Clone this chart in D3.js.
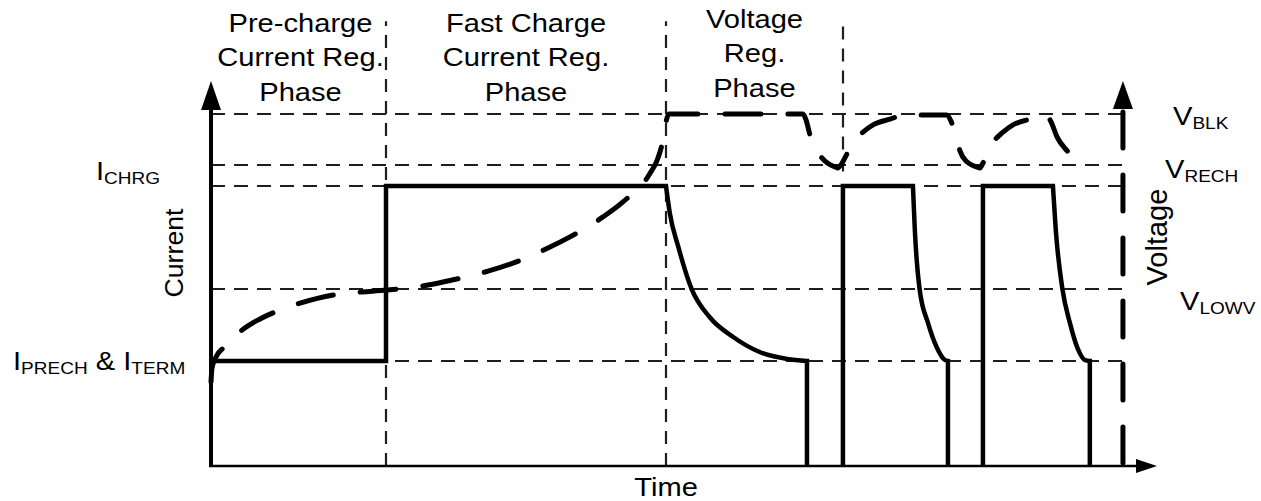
<!DOCTYPE html>
<html><head><meta charset="utf-8">
<script src="https://cdn.jsdelivr.net/npm/d3@7"></script>
<style>
html,body{margin:0;padding:0;background:#fff;}
svg{display:block;font-family:"Liberation Sans",Arial,Helvetica,sans-serif;}
</style>
</head><body>
<svg id="chart" width="1261" height="501"></svg>
<script>
// ---------- data ----------
const phaseLabels = [
  ["Pre-charge", "Current Reg.", "Phase"],
  ["Fast Charge", "Current Reg.", "Phase"],
  ["Voltage", "Reg.", "Phase"]
];
const phaseBounds = [0, 18.5, 48.1, 66.8];          // time units
const levelNames  = ["IPRECH", "VLOWV", "ICHRG", "VRECH", "VBLK"];
const levelValues = [27.3, 46.0, 72.7, 78.2, 91.4]; // level units

// charge current (solid), per pulse: rise (straight), decay (curve), drop (straight)
const currentRise = [
  [[0, 27.3], [18.5, 27.3], [18.5, 72.7], [48.1, 72.7]],
  [[66.8, 0], [66.8, 72.7], [74.2, 72.7]],
  [[81.6, 0], [81.6, 72.7], [89.0, 72.7]]
];
const currentDecay = [
  [[48.1, 72.7], [48.5, 65.7], [49.4, 56.9], [50.8, 46.0], [52.7, 38.7], [55.2, 33.5], [58.0, 29.6], [60.9, 27.8], [63.0, 27.3]],
  [[74.2, 72.7], [74.4, 61.3], [74.9, 46.0], [75.8, 37.1], [76.7, 30.9], [77.6, 27.5], [77.9, 27.3]],
  [[89.0, 72.7], [89.3, 61.3], [90.0, 46.0], [90.8, 37.1], [91.6, 30.6], [92.4, 27.5], [92.9, 27.3]]
];
const currentDrop = [
  [[63.0, 27.3], [63.0, 0]],
  [[77.9, 27.3], [77.9, 0]],
  [[92.9, 27.3], [92.9, 0]]
];

// battery voltage (dashed), split at the recharge dips
const voltageTime = [
  [0, 0.11, 0.53, 1.69, 3.28, 5.18, 7.08, 9.41, 13.64, 15.96, 18.60, 22.94, 25.48, 29.28, 31.92, 35.62,
   37.95, 41.44, 43.55, 46.30, 47.25, 47.78, 48.10, 48.41, 51.69, 56.98, 62.58, 62.90, 63.32, 64.06, 64.90, 66.28],
  [66.28, 66.59, 67.34, 68.08, 68.82, 69.98, 71.78, 73.36, 77.80, 78.22, 78.75, 79.18, 79.81, 81.29],
  [81.29, 81.50, 82.14, 82.88, 83.62, 84.78, 86.58, 88.27, 88.80, 89.43, 90.59, 91.86, 92.18]
];
const voltageLevel = [
  [21.8, 25.5, 28.3, 31.4, 35.3, 38.2, 40.3, 42.3, 44.7, 45.2, 45.7, 47.0, 48.3, 50.6, 52.7, 56.6,
   59.5, 64.7, 68.6, 75.6, 80.0, 84.7, 89.4, 91.4, 91.4, 91.4, 91.4, 89.9, 86.0, 81.8, 79.2, 77.4],
  [77.4, 78.2, 81.6, 84.7, 86.5, 88.6, 90.1, 91.2, 91.2, 89.6, 85.7, 81.8, 79.2, 77.4],
  [77.4, 78.2, 81.6, 84.7, 86.5, 88.6, 90.1, 91.2, 89.4, 85.5, 81.6, 78.2, 77.7]
];

// ---------- scales ----------
const svg = d3.select("#chart");
const x = d3.scaleLinear().domain([0, 100]).range([211, 1157]);
const y = d3.scaleLinear().domain([0, 100]).range([466, 81]);

const gridColor = "#1e1e1e";
const gridEnd = 96.7;
const rightAxisT = 96.4;

// ---------- grid (dashed reference lines) ----------
svg.append("g").selectAll("line").data(levelValues).join("line")
  .attr("x1", x(0)).attr("x2", x(gridEnd))
  .attr("y1", d => Math.round(y(d))).attr("y2", d => Math.round(y(d)))
  .attr("stroke", gridColor).attr("stroke-width", 2.2)
  .attr("stroke-dasharray", "14,9");

const phaseLines = [
  {t: phaseBounds[1], from: 0, to: 115.5},
  {t: phaseBounds[2], from: 0, to: 115.5},
  {t: phaseBounds[3], from: 76.5, to: 115.5}
];
svg.append("g").selectAll("line").data(phaseLines).join("line")
  .attr("x1", d => Math.round(x(d.t))).attr("x2", d => Math.round(x(d.t)))
  .attr("y1", d => y(d.from)).attr("y2", d => y(d.to))
  .attr("stroke", gridColor).attr("stroke-width", 2.2)
  .attr("stroke-dasharray", "13,9");

// ---------- axes ----------
// left (current) axis
svg.append("line")
  .attr("x1", x(0)).attr("x2", x(0)).attr("y1", y(0) + 1).attr("y2", y(100) + 26)
  .attr("stroke", "#000").attr("stroke-width", 4);
svg.append("path")
  .attr("d", `M${x(0)},${y(100)} L${x(0) - 10},${y(100) + 29} L${x(0) + 10},${y(100) + 29} Z`)
  .attr("fill", "#000");
// bottom (time) axis
svg.append("line")
  .attr("x1", x(0) - 2).attr("x2", x(100) - 18).attr("y1", y(0)).attr("y2", y(0))
  .attr("stroke", "#000").attr("stroke-width", 2.5);
svg.append("path")
  .attr("d", `M${x(100)},${y(0)} L${x(100) - 21},${y(0) - 7} L${x(100) - 21},${y(0) + 7} Z`)
  .attr("fill", "#000");
// right (voltage) axis
svg.append("line")
  .attr("x1", x(rightAxisT)).attr("x2", x(rightAxisT)).attr("y1", y(100) + 31).attr("y2", y(0) + 2)
  .attr("stroke", "#000").attr("stroke-width", 5)
  .attr("stroke-linecap", "round").attr("stroke-dasharray", "36,27");
svg.append("path")
  .attr("d", `M${x(rightAxisT)},${y(100)} L${x(rightAxisT) - 10},${y(100) + 28} L${x(rightAxisT) + 10},${y(100) + 28} Z`)
  .attr("fill", "#000");

// ---------- current trace ----------
const lin = d3.line().x(d => x(d[0])).y(d => y(d[1]));
const smooth = d3.line().x(d => x(d[0])).y(d => y(d[1])).curve(d3.curveMonotoneX);
const pulses = d3.range(currentRise.length).map(i =>
  lin(currentRise[i]) + smooth(currentDecay[i]).replace(/^M/, "L") + lin(currentDrop[i]).replace(/^M/, "L"));
svg.append("g").selectAll("path").data(pulses).join("path")
  .attr("d", d => d)
  .attr("fill", "none").attr("stroke", "#000").attr("stroke-width", 4.5)
  .attr("stroke-linejoin", "miter");

// ---------- voltage trace ----------
const voltageD = voltageTime.map((ts, k) =>
  smooth(ts.map((t, i) => [t, voltageLevel[k][i]])).replace(/^M/, k ? "L" : "M")).join("");
svg.append("path")
  .attr("d", voltageD)
  .attr("fill", "none").attr("stroke", "#000").attr("stroke-width", 5)
  .attr("stroke-linecap", "round").attr("stroke-linejoin", "round")
  .attr("stroke-dasharray", "36,27");

// ---------- text ----------
const SX = 1.12;
function hText(px, py, anchor, parts, size) {
  const g = svg.append("g").attr("transform", `translate(${px},${py}) scale(${SX},1)`);
  const t = g.append("text").attr("text-anchor", anchor).attr("font-size", size).attr("fill", "#000");
  let shift = 0;
  parts.forEach(p => {
    const ts = t.append("tspan").text(p.s);
    if (p.sub) { ts.attr("font-size", 17).attr("dy", 4 - shift); shift = 4; }
    else { ts.attr("dy", -shift); shift = 0; }
  });
  return t;
}

// phase titles
const phaseBase = [[32, 66, 101], [32, 66, 101], [28, 62, 97]];
phaseLabels.forEach((lines, i) => {
  const cx = x((phaseBounds[i] + phaseBounds[i + 1]) / 2) + (i === 0 ? 2 : 0);
  lines.forEach((s, j) => hText(cx, phaseBase[i][j], "middle", [{s}], 26));
});

// left level labels
hText(160, 180, "end", [{s: "I"}, {s: "CHRG", sub: true}], 26);
hText(13, 370, "start", [{s: "I"}, {s: "PRECH", sub: true}, {s: " & I"}, {s: "TERM", sub: true}], 26);

// right level labels
hText(1173, 125, "start", [{s: "V"}, {s: "BLK", sub: true}], 26);
hText(1165, 178, "start", [{s: "V"}, {s: "RECH", sub: true}], 26);
hText(1180, 310, "start", [{s: "V"}, {s: "LOWV", sub: true}], 26);

// axis titles
hText(x(48.1), 496, "middle", [{s: "Time"}], 26);
svg.append("text").attr("transform", `translate(183,253) rotate(-90)`)
  .attr("text-anchor", "middle").attr("font-size", 26.7).text("Current");
svg.append("text").attr("transform", `translate(1167,237) rotate(-90)`)
  .attr("text-anchor", "middle").attr("font-size", 29).text("Voltage");
</script>
</body></html>
